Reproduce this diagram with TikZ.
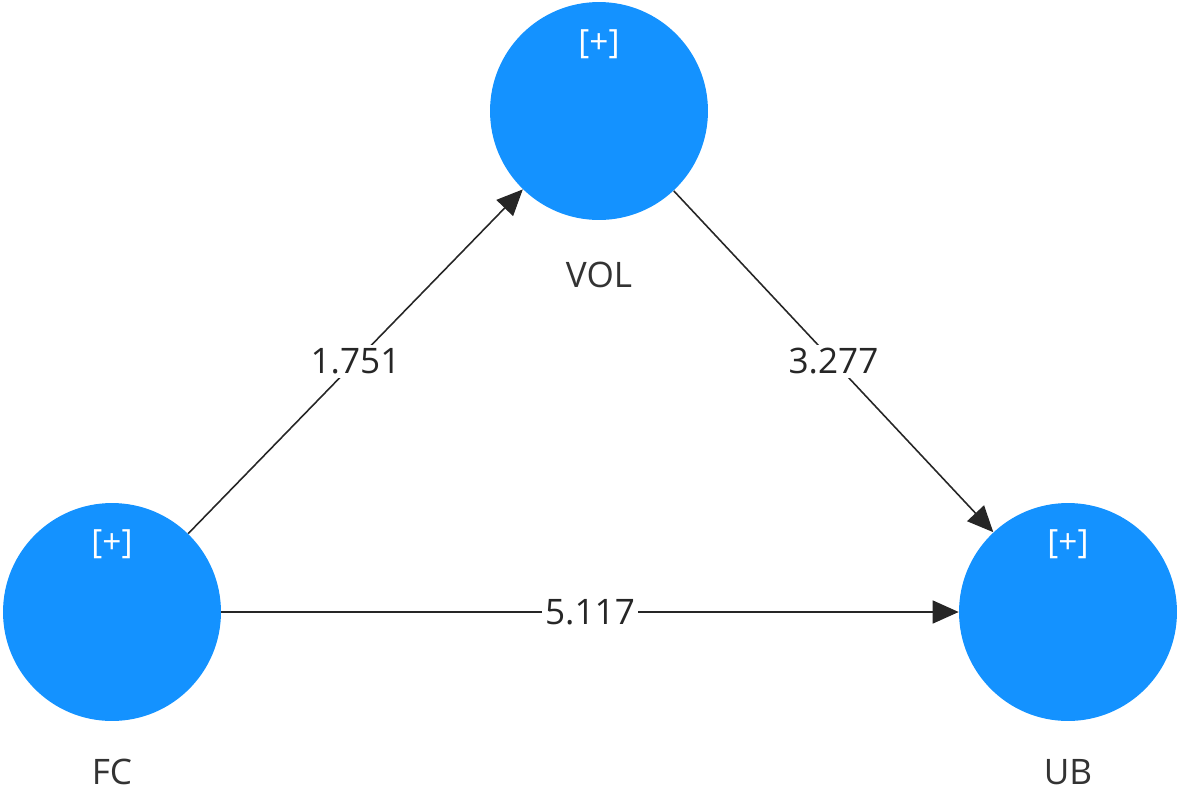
\documentclass[tikz,border=0pt]{standalone}
\usepackage{fontspec}
\setmainfont{Open Sans}
\usepackage{tikz}
\usetikzlibrary{positioning, arrows.meta}
\definecolor{latentblue}{RGB}{20,146,255}
\tikzset{
    latent/.style={
        circle,
        fill=latentblue,
        minimum size=4.36cm,
        inner sep=0pt
    },
    plus/.style={
        text=white,
        font=\fontsize{19}{22}\selectfont
    },
    varname/.style={
        text=black!80,
        inner sep=0.5pt,
        font=\fontsize{20}{24}\selectfont
    },
    path/.style={
        -{Triangle[length=0.52cm,width=0.46cm]},
        line width=0.9pt,
        black!85
    },
    coef/.style={
        fill=white,
        inner sep=2pt,
        text=black!85,
        font=\fontsize{20}{24}\selectfont
    }
}

\begin{document}
\begin{tikzpicture}[x=0.02cm, y=-0.02cm]
    \useasboundingbox (0,0) rectangle (1181,792);
    \node[latent] (vol) at (599,111) {};
    \node[latent] (fc) at (112,612) {};
    \node[latent] (ub) at (1068,612) {};

    \node[plus] (volplus) at (599,44) {[+]};
    \node[plus] (fcplus) at (112,544) {[+]};
    \node[plus] (ubplus) at (1068,544) {[+]};

    \node[varname] (volname) at (599,275) {VOL};
    \node[varname] (fcname) at (112,772) {FC};
    \node[varname] (ubname) at (1068,772) {UB};

    \draw[path] (fc) -- node[coef] {1.751} (vol);
    \draw[path] (vol) -- node[coef] {3.277} (ub);
    \draw[path] (fc) -- node[coef] {5.117} (ub);
\end{tikzpicture}
\end{document}
